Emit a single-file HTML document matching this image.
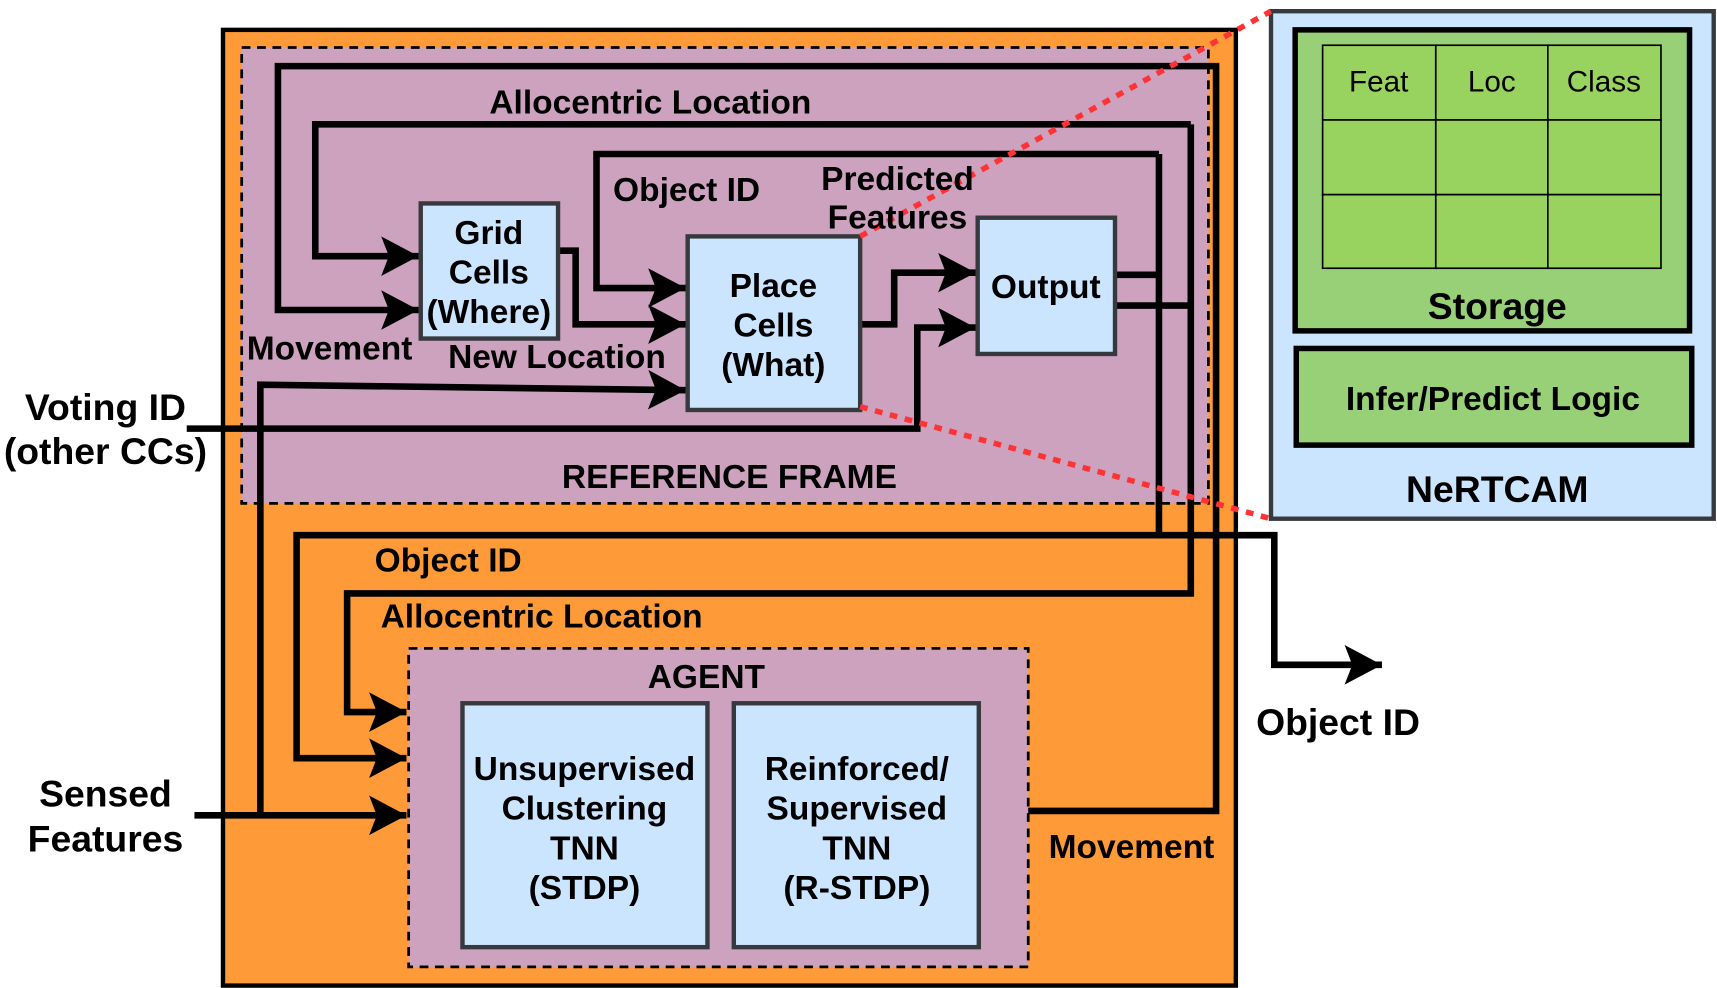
<!DOCTYPE html>
<html><head><meta charset="utf-8"><style>
html,body{margin:0;padding:0;background:#fff;}
svg{display:block;}
text{font-family:"Liberation Sans",Arial,sans-serif;font-weight:bold;fill:#000;}
</style></head><body>
<svg width="1717" height="988" viewBox="0 0 1563 899" xmlns="http://www.w3.org/2000/svg">
<defs>
<marker id="a" markerUnits="userSpaceOnUse" markerWidth="40" markerHeight="40" refX="34" refY="18" orient="auto">
<path d="M0,0 L34,18 L0,36 L7,18 z" fill="#000"/>
</marker>
</defs>
<rect x="203" y="27" width="922" height="870" fill="#FF9A38" stroke="#000" stroke-width="4"/>
<rect x="220" y="43" width="880" height="415" fill="#CDA2BE" stroke="#000" stroke-width="2.5" stroke-dasharray="8,6"/>
<rect x="372" y="590" width="564" height="290" fill="#CDA2BE" stroke="#000" stroke-width="2.5" stroke-dasharray="8,6"/>

<g fill="none" stroke="#000" stroke-width="6">
<polyline points="936,738 1107,738 1107,60 253,60 253,282 381,282" marker-end="url(#a)"/>
<polyline points="1015,278 1084,278"/>
<polyline points="1084,113 287,113 287,233 381,233" marker-end="url(#a)"/>
<polyline points="1084,113 1084,540 316,540 316,648 370,648" marker-end="url(#a)"/>
<polyline points="1015,250 1055,250"/>
<polyline points="1055,140 543,140 543,262 624,262" marker-end="url(#a)"/>
<polyline points="1055,140 1055,487 270,487 270,690 370,690" marker-end="url(#a)"/>
<polyline points="1055,487 1160,487 1160,605 1258,605" marker-end="url(#a)"/>
<polyline points="508,228 524,228 524,295 624,295" marker-end="url(#a)"/>
<polyline points="783,295 814,295 814,248 888,248" marker-end="url(#a)"/>
<polyline points="170,390 835,390 835,298 888,298" marker-end="url(#a)"/>
<polyline points="177,742 370,742" marker-end="url(#a)"/>
<polyline points="237,742 237,350 624,355" marker-end="url(#a)"/>
</g>

<g fill="#CCE5FF" stroke="#36393d" stroke-width="4">
<rect x="383" y="185" width="125" height="123"/>
<rect x="626" y="215" width="157" height="158"/>
<rect x="890" y="198" width="125" height="124"/>
<rect x="421" y="640" width="223" height="222"/>
<rect x="668" y="640" width="223" height="222"/>
<rect x="1157" y="10" width="403" height="462"/>
</g>
<rect x="1179" y="27" width="359" height="274" fill="#97D077" stroke="#000" stroke-width="5"/>
<rect x="1180" y="317" width="360" height="88" fill="#97D077" stroke="#000" stroke-width="5"/>
<g fill="#97D35E" stroke="#000" stroke-width="1.5">
<rect x="1204" y="41" width="103" height="68"/><rect x="1307" y="41" width="102" height="68"/><rect x="1409" y="41" width="103" height="68"/>
<rect x="1204" y="109" width="103" height="68"/><rect x="1307" y="109" width="102" height="68"/><rect x="1409" y="109" width="103" height="68"/>
<rect x="1204" y="177" width="103" height="67"/><rect x="1307" y="177" width="102" height="67"/><rect x="1409" y="177" width="103" height="67"/>
</g>

<g stroke="#F33" stroke-width="5" stroke-dasharray="7,7">
<line x1="783" y1="215" x2="1157" y2="10"/>
<line x1="783" y1="370" x2="1157" y2="472"/>
</g>

<g font-size="30.5" text-anchor="middle">
<text x="445" y="222">Grid</text><text x="445" y="258">Cells</text><text x="445" y="294">(Where)</text>
<text x="704" y="270">Place</text><text x="704" y="306">Cells</text><text x="704" y="342">(What)</text>
<text x="952" y="271">Output</text>
<text x="532" y="710">Unsupervised</text><text x="532" y="746">Clustering</text><text x="532" y="782">TNN</text><text x="532" y="818">(STDP)</text>
<text x="780" y="710">Reinforced/</text><text x="780" y="746">Supervised</text><text x="780" y="782">TNN</text><text x="780" y="818">(R-STDP)</text>
<text x="592" y="103">Allocentric Location</text>
<text x="625" y="183">Object ID</text>
<text x="817" y="173">Predicted</text><text x="817" y="208">Features</text>
<text x="300" y="327">Movement</text>
<text x="507" y="335">New Location</text>
<text x="664" y="444">REFERENCE FRAME</text>
<text x="408" y="520">Object ID</text>
<text x="493" y="571">Allocentric Location</text>
<text x="643" y="626">AGENT</text>
<text x="1030" y="781">Movement</text>
<text x="96" y="382" font-size="34">Voting ID</text>
<text x="96" y="422" font-size="34">(other CCs)</text>
<text x="96" y="734" font-size="34">Sensed</text>
<text x="96" y="775" font-size="34">Features</text>
<text x="1218" y="669" font-size="34">Object ID</text>
<text x="1363" y="290" font-size="34">Storage</text>
<text x="1359" y="373">Infer/Predict Logic</text>
<text x="1363" y="457" font-size="34">NeRTCAM</text>
</g>
<g font-size="27" text-anchor="middle">
<text x="1255" y="83" style="font-weight:normal">Feat</text>
<text x="1358" y="83" style="font-weight:normal">Loc</text>
<text x="1460" y="83" style="font-weight:normal">Class</text>
</g>
</svg>
</body></html>
